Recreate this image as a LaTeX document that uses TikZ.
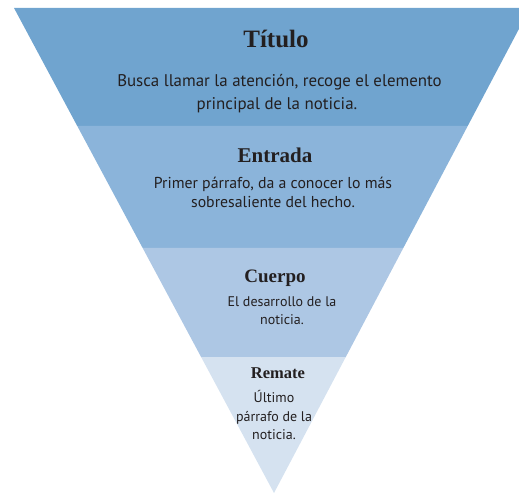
\documentclass[tikz,border=0pt]{standalone}
\usepackage{fontspec}
\setmainfont{Liberation Serif}
\newfontfamily\bodyfont{PT Sans}
\usetikzlibrary{calc}
\definecolor{bandA}{RGB}{112,164,207}
\definecolor{bandB}{RGB}{139,180,218}
\definecolor{bandC}{RGB}{173,199,228}
\definecolor{bandD}{RGB}{213,226,240}
\definecolor{ink}{RGB}{35,31,32}
\tikzset{
  head/.style={anchor=base, inner sep=0pt, text=ink, font=\bfseries},
  body/.style={anchor=base, inner sep=0pt, text=ink},
}
\begin{document}
\begin{tikzpicture}[x=1pt,y=-1pt]
\useasboundingbox (0,0) rectangle (519,494);
\clip (0,0) rectangle (519,494);
\coordinate (TL) at (14,8);
\coordinate (TR) at (530,8);
\coordinate (AP) at (274,493);
\coordinate (L1) at ($(TL)!0.2433!(AP)$);
\coordinate (R1) at ($(TR)!0.2433!(AP)$);
\coordinate (L2) at ($(TL)!0.4948!(AP)$);
\coordinate (R2) at ($(TR)!0.4948!(AP)$);
\coordinate (L3) at ($(TL)!0.7196!(AP)$);
\coordinate (R3) at ($(TR)!0.7196!(AP)$);
\fill[bandA] (TL) -- (TR) -- (R1) -- (L1) -- cycle;
\fill[bandB] (L1) -- (R1) -- (R2) -- (L2) -- cycle;
\fill[bandC] (L2) -- (R2) -- (R3) -- (L3) -- cycle;
\fill[bandD] (L3) -- (R3) -- (AP) -- cycle;
% Titulo
\node[head, font=\bfseries\fontsize{25}{30}\selectfont] (t1) at (276,48) {Título};
\node[body, font=\bodyfont\fontsize{16.9}{20}\selectfont] (t2) at (279.5,87) {Busca llamar la atención, recoge el elemento};
\node[body, font=\bodyfont\fontsize{16.9}{20}\selectfont] (t3) at (277,110) {principal de la noticia.};
% Entrada
\node[head, font=\bfseries\fontsize{21}{25}\selectfont] (e1) at (275,163) {Entrada};
\node[body, font=\bodyfont\fontsize{15.8}{18}\selectfont] (e2) at (273,189) {Primer párrafo, da a conocer lo más};
\node[body, font=\bodyfont\fontsize{15.8}{18}\selectfont] (e3) at (273,208) {sobresaliente del hecho.};
% Cuerpo
\node[head, font=\bfseries\fontsize{19}{23}\selectfont] (c1) at (275,283) {Cuerpo};
\node[body, font=\bodyfont\fontsize{14}{17}\selectfont] (c2) at (282,306) {El desarrollo de la};
\node[body, font=\bodyfont\fontsize{14}{17}\selectfont] (c3) at (282,324) {noticia.};
% Remate
\node[head, font=\bfseries\fontsize{16.5}{20}\selectfont] (r1) at (278,378) {Remate};
\node[body, font=\bodyfont\fontsize{14}{17}\selectfont] (r2) at (274,402) {Último};
\node[body, font=\bodyfont\fontsize{14}{17}\selectfont] (r3) at (274,421) {párrafo de la};
\node[body, font=\bodyfont\fontsize{14}{17}\selectfont] (r4) at (274,439) {noticia.};
\end{tikzpicture}
\end{document}
